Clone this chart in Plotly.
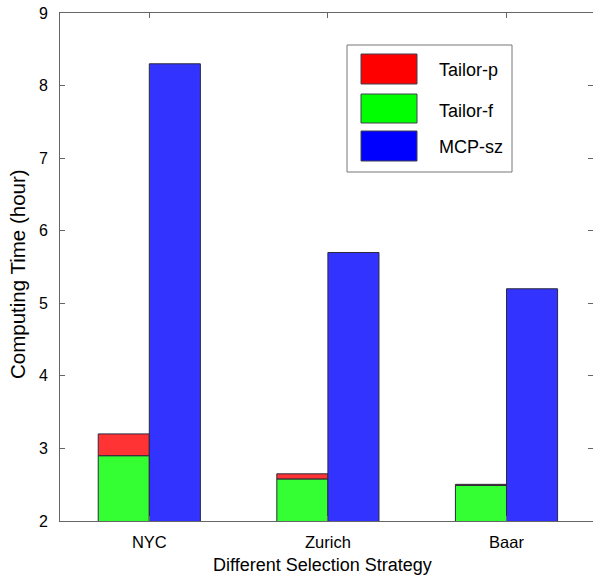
import plotly.graph_objects as go

categories = ["NYC", "Zurich", "Baar"]
series_names = ["Tailor-p", "Tailor-f", "MCP-sz"]
tailor_f = [2.9, 2.58, 2.49]
tailor_p = [3.2, 2.65, 2.505]
mcp_sz = [8.3, 5.7, 5.2]
y_ticks = [2, 3, 4, 5, 6, 7, 8, 9]
x_title = "Different Selection Strategy"
y_title = "Computing Time (hour)"

W, H = 593, 575
L, R, T, B = 60, 0, 13, 54
PW, PH = W - L - R, H - T - B

def px(x):
    return (x - L) / PW

def py(y):
    return 1 - (y - T) / PH

FONT = "Liberation Sans, Arial, sans-serif"
bar_cols = ["#ff3333", "#33ff33", "#3333ff"]
leg_cols = ["#ff0000", "#00ff00", "#0000ff"]
edge = dict(color="#2a2a3a", width=1)
bw = 0.286

fig = go.Figure()
fig.add_trace(go.Bar(x=categories, y=tailor_f, width=bw, offset=-bw,
                     marker=dict(color=bar_cols[1], line=edge), showlegend=False, name=series_names[1]))
fig.add_trace(go.Bar(x=categories, y=[p - f for p, f in zip(tailor_p, tailor_f)], base=tailor_f,
                     width=bw, offset=-bw,
                     marker=dict(color=bar_cols[0], line=edge), showlegend=False, name=series_names[0]))
fig.add_trace(go.Bar(x=categories, y=mcp_sz, width=bw, offset=0,
                     marker=dict(color=bar_cols[2], line=edge), showlegend=False, name=series_names[2]))
fig.add_trace(go.Scatter(x=categories, y=[None] * 3, yaxis="y2", showlegend=False, hoverinfo="skip"))

axcol = "#666666"
fig.update_layout(
    width=W, height=H,
    margin=dict(l=L, r=R, t=T, b=B, autoexpand=False),
    paper_bgcolor="white", plot_bgcolor="white",
    barmode="overlay",
    font=dict(family=FONT, color="black", size=16),
    xaxis=dict(range=[-0.5, -0.5 + PW / 178.6], showline=True, linecolor=axcol, linewidth=1,
               mirror="ticks", ticks="inside", ticklen=5, tickcolor=axcol, showgrid=False,
               tickfont=dict(size=16.5), ticklabelstandoff=6, automargin=False),
    yaxis=dict(range=[2, 9], tickvals=y_ticks, showline=True, linecolor=axcol, linewidth=1,
               ticks="inside", ticklen=5, tickcolor=axcol, showgrid=False, zeroline=False,
               tickfont=dict(size=16), ticklabelstandoff=8, automargin=False),
    yaxis2=dict(range=[2, 9], tickvals=y_ticks, overlaying="y", side="right", showline=False,
                ticks="inside", ticklen=5, tickcolor=axcol, showticklabels=False,
                showgrid=False, zeroline=False, automargin=False),
)

fig.add_annotation(x=px(322), y=py(565), xref="paper", yref="paper", text=x_title, showarrow=False,
                   xanchor="center", yanchor="middle", font=dict(size=18))
fig.add_annotation(x=px(17), y=py(274), xref="paper", yref="paper", text=y_title, showarrow=False,
                   textangle=-90, xanchor="center", yanchor="middle", font=dict(size=20.5))

shapes = [dict(type="rect", xref="paper", yref="paper", x0=px(347), x1=px(512), y0=py(45), y1=py(172),
               line=dict(color="#777777", width=1), fillcolor="white", layer="above")]
sw_y = [(54, 84), (94, 123), (131, 161)]
txt_y = [70, 111, 147]
for i in range(3):
    shapes.append(dict(type="rect", xref="paper", yref="paper", x0=px(361), x1=px(417),
                       y0=py(sw_y[i][0]), y1=py(sw_y[i][1]), fillcolor=leg_cols[i],
                       line=dict(color="#404050", width=1), layer="above"))
    fig.add_annotation(x=px(437), y=py(txt_y[i]), xref="paper", yref="paper", text=series_names[i],
                       showarrow=False, xanchor="left", yanchor="middle", font=dict(size=18))
fig.update_layout(shapes=shapes)

fig.write_html("out.html", config={"displayModeBar": False},
               post_script="document.body.style.margin='0';document.body.style.overflow='hidden';")
